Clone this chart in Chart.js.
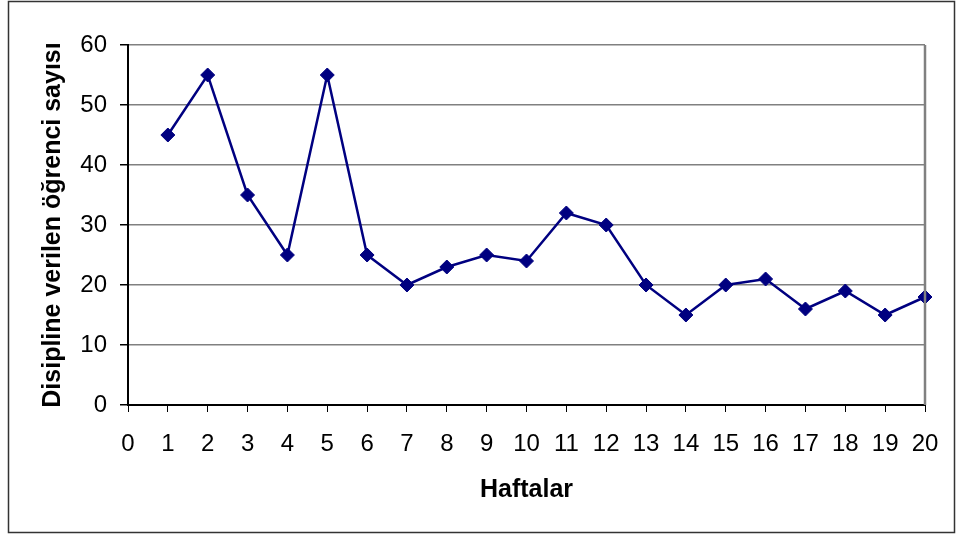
<!DOCTYPE html>
<html>
<head>
<meta charset="utf-8">
<script src="https://cdn.jsdelivr.net/npm/chart.js@4.4.0/dist/chart.umd.min.js"></script>
<style>
  html, body { margin: 0; padding: 0; background: #fff; }
  #wrap { width: 957px; height: 535px; position: relative; }
</style>
</head>
<body>
<div id="wrap"><canvas id="chart" width="957" height="535"></canvas></div>
<script>
const weeks = [1, 2, 3, 4, 5, 6, 7, 8, 9, 10, 11, 12, 13, 14, 15, 16, 17, 18, 19, 20];
const students = [45, 55, 35, 25, 55, 25, 20, 23, 25, 24, 32, 30, 20, 15, 20, 21, 16, 19, 15, 18];
const xTitle = 'Haftalar';
const yTitle = 'Disipline verilen öğrenci sayısı';

// outer frame + gray right edge of the plot area
const frame = {
    id: 'frame',
    afterDraw(chart) {
        const ctx = chart.ctx;
        const a = chart.chartArea;
        ctx.save();
        ctx.strokeStyle = '#808080';
        ctx.lineWidth = 2.5;
        ctx.beginPath();
        ctx.moveTo(a.right, a.top);
        ctx.lineTo(a.right, a.bottom);
        ctx.stroke();
        ctx.strokeStyle = '#333';
        ctx.lineWidth = 1.5;
        ctx.strokeRect(8.5, 1.5, 946, 531);
        ctx.restore();
    }
};

new Chart(document.getElementById('chart'), {
    type: 'line',
    data: {
        datasets: [{
            data: weeks.map((w, i) => ({ x: w, y: students[i] })),
            borderColor: '#000080',
            backgroundColor: '#000080',
            borderWidth: 2.5,
            pointStyle: 'rectRot',
            pointRadius: 7,
            pointHoverRadius: 7,
            pointBorderWidth: 1,
            tension: 0,
            clip: false
        }]
    },
    options: {
        responsive: false,
        animation: false,
        layout: { padding: { top: 45, right: 32, bottom: 30, left: 0 } },
        plugins: { legend: { display: false }, tooltip: { enabled: false } },
        scales: {
            x: {
                type: 'linear',
                min: 0,
                max: 20,
                afterFit(s) { s.height = 100; },
                ticks: {
                    stepSize: 1,
                    color: '#000',
                    padding: 18,
                    maxRotation: 0,
                    autoSkip: false,
                    font: { family: 'Liberation Sans', size: 24 }
                },
                grid: { drawOnChartArea: false, color: '#000', tickLength: 7 },
                border: { color: '#000', width: 2 },
                title: {
                    display: true,
                    text: xTitle,
                    color: '#000',
                    padding: { top: 0, bottom: 0 },
                    font: { family: 'Liberation Sans', size: 25, weight: 'bold' }
                }
            },
            y: {
                min: 0,
                max: 60,
                afterFit(s) { s.width = 128; },
                ticks: {
                    stepSize: 10,
                    color: '#000',
                    padding: 13,
                    font: { family: 'Liberation Sans', size: 24 }
                },
                grid: { color: '#808080', tickColor: '#000', tickLength: 8, lineWidth: 1.5 },
                border: { color: '#000', width: 2 },
                title: {
                    display: true,
                    text: yTitle,
                    color: '#000',
                    padding: { top: 38, bottom: 0 },
                    font: { family: 'Liberation Sans', size: 25, weight: 'bold' }
                }
            }
        }
    },
    plugins: [frame]
});
</script>
</body>
</html>
